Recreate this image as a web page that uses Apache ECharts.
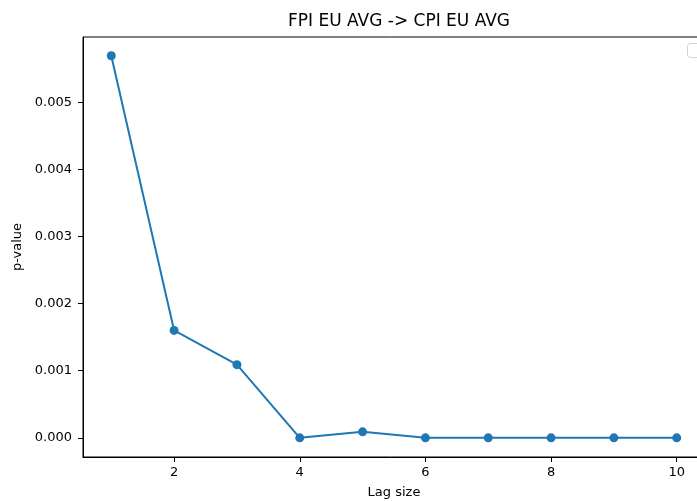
<!DOCTYPE html>
<html>
<head>
<meta charset="utf-8">
<script src="https://cdn.jsdelivr.net/npm/echarts@6/dist/echarts.min.js"></script>
<style>
html, body { margin: 0; padding: 0; background: #fff; }
#chart_panel { width: 697px; height: 501px; }
</style>
</head>
<body>
<div id="chart_panel"></div>
<script>
var lagArray = [1, 2, 3, 4, 5, 6, 7, 8, 9, 10];
var pValueArray = [0.00569, 0.0016, 0.00109, 0.0, 0.00009, 0.0, 0.0, 0.0, 0.0, 0.0];
var xTickArray = [2, 4, 6, 8, 10];
var yTickArray = [0, 0.001, 0.002, 0.003, 0.004, 0.005];

var myChart = echarts.init(document.getElementById('chart_panel'));

function getSeriesData() {
	var data = [];
	for (var i = 0; i < lagArray.length; i++) {
		data.push([lagArray[i], pValueArray[i]]);
	}
	return data;
}

var lineChart = {
	animation: false,
	textStyle: { fontFamily: 'DejaVu Sans' },
	title: {
		text: 'FPI EU AVG -> CPI EU AVG',
		left: 394,
		top: 8,
		textAlign: 'center',
		textStyle: { fontSize: 17, fontWeight: 'normal', color: '#000', fontFamily: 'DejaVu Sans' }
	},
	grid: {
		left: 83,
		top: 37,
		right: -8,
		bottom: 44,
		show: true,
		borderColor: '#000',
		borderWidth: 1,
		containLabel: false,
		outerBoundsMode: 'none'
	},
	xAxis: {
		type: 'value',
		min: 0.55,
		max: 10.45,
		name: 'Lag size',
		nameLocation: 'middle',
		nameGap: 29,
		nameTextStyle: { fontSize: 13, color: '#000' },
		splitLine: { show: false },
		axisLine: { onZero: false, lineStyle: { color: '#000', width: 1 } },
		axisTick: { show: true, inside: false, length: 5, lineStyle: { color: '#000' }, customValues: xTickArray },
		axisLabel: { fontSize: 13, color: '#000', margin: 9, customValues: xTickArray }
	},
	yAxis: {
		type: 'value',
		min: -0.000285,
		max: 0.00597,
		name: 'p-value',
		nameLocation: 'middle',
		nameGap: 59,
		nameTextStyle: { fontSize: 13, color: '#000' },
		splitLine: { show: false },
		axisLine: { show: true, onZero: false, lineStyle: { color: '#000', width: 1 } },
		axisTick: { show: true, inside: false, length: 5, lineStyle: { color: '#000' }, customValues: yTickArray },
		axisLabel: {
			fontSize: 13,
			color: '#000',
			margin: 11,
			customValues: yTickArray,
			formatter: function (v) { return v.toFixed(3); }
		}
	},
	graphic: [{
		type: 'rect',
		left: 687,
		top: 43,
		shape: { width: 20, height: 14, r: 3 },
		style: { fill: '#fff', stroke: '#d0d0d0', lineWidth: 1 }
	}],
	series: [{
		type: 'line',
		data: getSeriesData(),
		symbol: 'circle',
		symbolSize: 9,
		lineStyle: { color: '#1f77b4', width: 2 },
		itemStyle: { color: '#1f77b4' }
	}]
};

myChart.setOption(lineChart, true);
</script>
</body>
</html>
